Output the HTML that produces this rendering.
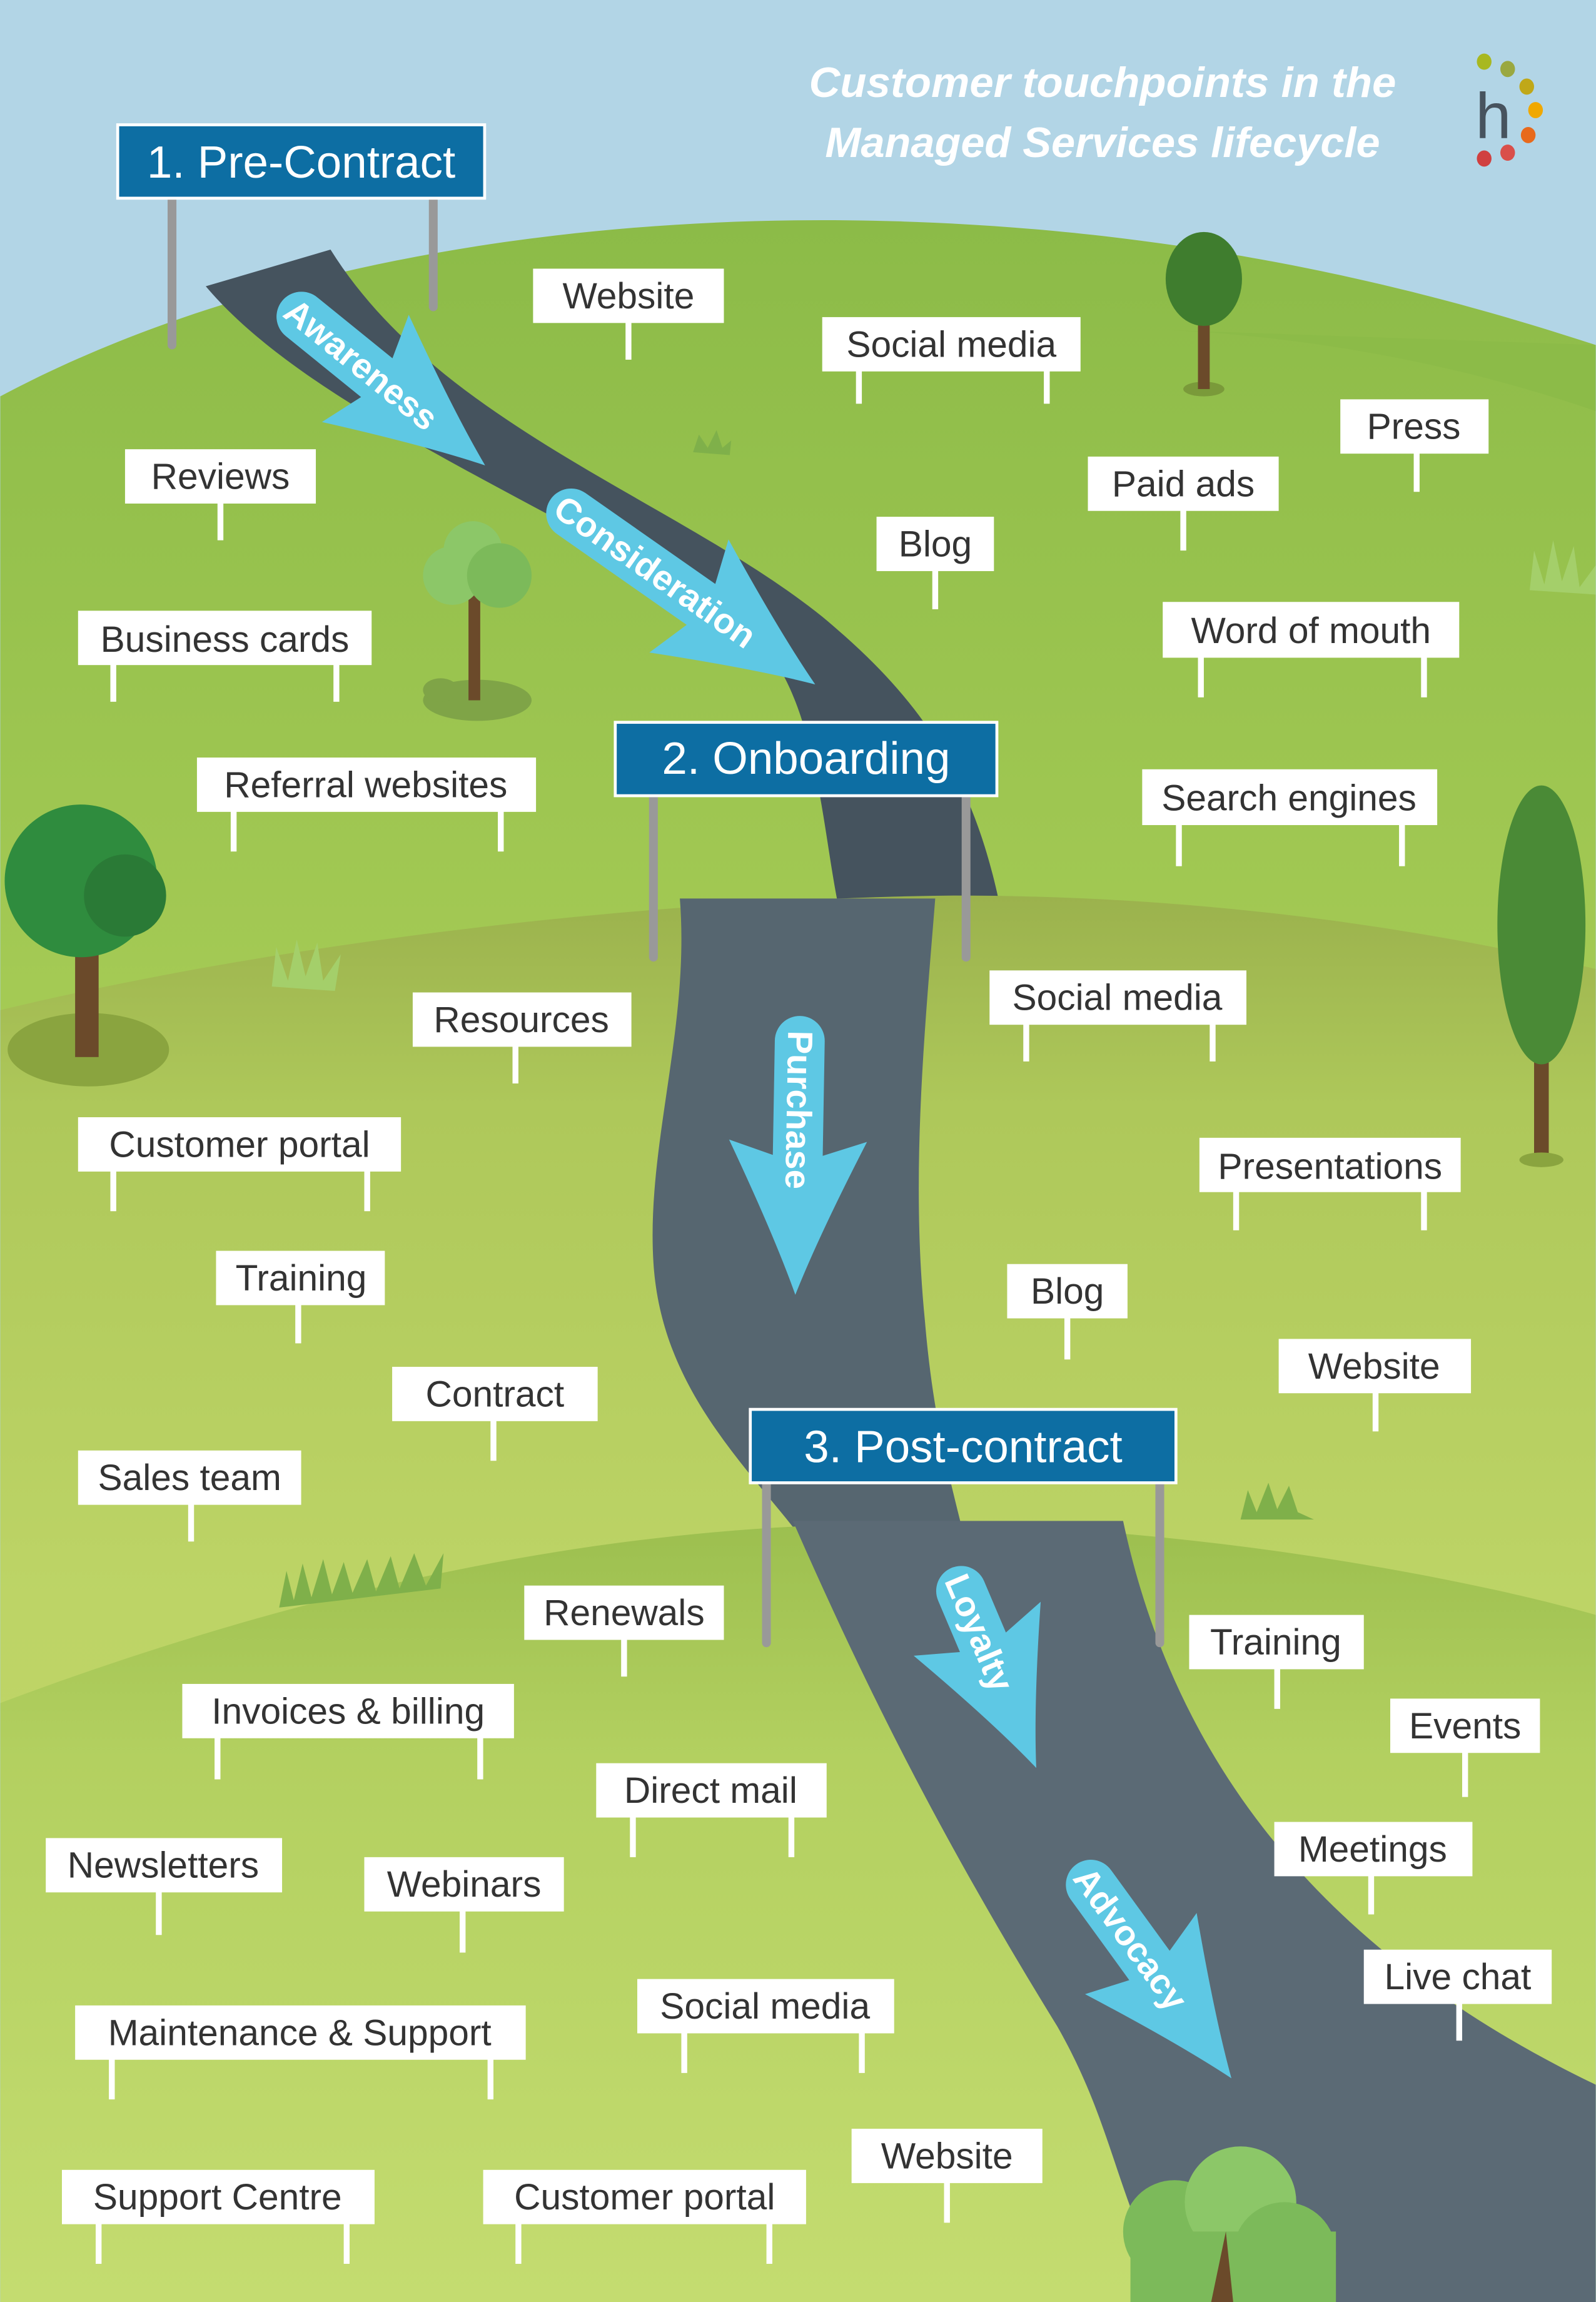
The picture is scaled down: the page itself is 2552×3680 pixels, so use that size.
<!DOCTYPE html>
<html><head><meta charset="utf-8"><style>
html,body{margin:0;padding:0;background:#b2d5e6}
svg{display:block}
.lb{font-family:"Liberation Sans",sans-serif;font-size:25px;fill:#333}
.sg{font-family:"Liberation Sans",sans-serif;font-size:31px;fill:#fff}
.ar{font-family:"Liberation Sans",sans-serif;font-size:24px;font-weight:bold;fill:#fff}
</style></head><body>
<svg width="2552" height="3680" viewBox="0 0 1087 1568" xmlns="http://www.w3.org/2000/svg">
<defs>
<linearGradient id="h1" x1="0" y1="0" x2="0" y2="1"><stop offset="0" stop-color="#8cbb48"/><stop offset="0.4" stop-color="#a6cb55"/><stop offset="1" stop-color="#b8d462"/></linearGradient>
<linearGradient id="h2" x1="0" y1="0" x2="0" y2="1"><stop offset="0" stop-color="#9bb24d"/><stop offset="0.15" stop-color="#aec85a"/><stop offset="0.5" stop-color="#bdd466"/><stop offset="1" stop-color="#c2d86a"/></linearGradient>
<linearGradient id="h3" x1="0" y1="0" x2="0" y2="1"><stop offset="0" stop-color="#9cbf4f"/><stop offset="0.3" stop-color="#b3d060"/><stop offset="1" stop-color="#c4dc70"/></linearGradient>
</defs>
<rect width="1087" height="1568" fill="#b2d5e6"/>
<path d="M0,270 C150,190 350,150 560,150 C800,150 980,200 1087,235 L1087,1568 L0,1568Z" fill="url(#h1)"/>
<path d="M1087,235 L1087,280 C1000,250 900,230 800,225Z" fill="#8cbb48"/>
<path d="M140,195 C220,290 420,360 520,440 C555,480 560,560 570,612 L680,612 C660,520 620,470 560,420 C460,340 300,290 225,170 Z" fill="#45535e"/>
<path d="M0,688 C200,640 450,612 650,610 C850,610 1000,640 1087,660 L1087,1568 L0,1568Z" fill="url(#h2)"/>
<path d="M463,612 L637,612 C630,700 620,800 630,900 C635,960 645,1000 655,1040 L540,1040 C500,990 450,940 445,860 C440,780 470,700 463,612 Z" fill="#566670"/>
<path d="M0,1160 C200,1085 400,1040 600,1038 C800,1036 1000,1075 1087,1100 L1087,1568 L0,1568Z" fill="url(#h3)"/>
<path d="M540,1036 L765,1036 C800,1200 900,1330 1087,1420 L1087,1568 L800,1568 C760,1500 760,1450 720,1380 C640,1250 590,1150 540,1036 Z" fill="#5b6a75"/>

<!-- grass patches -->
<g fill="#7fb04a">
<path d="M190,1095 L195,1070 L200,1090 L206,1065 L212,1088 L220,1062 L226,1086 L234,1064 L240,1085 L250,1062 L256,1084 L266,1060 L272,1082 L282,1058 L290,1080 L302,1058 L300,1082 Z"/>
<path d="M845,1035 L850,1015 L856,1030 L864,1010 L870,1028 L878,1012 L884,1030 L895,1035 Z"/>
<path d="M185,672 L188,645 L196,668 L202,640 L208,665 L216,642 L220,668 L232,650 L228,675 Z" fill="#a4cf6a"/>
<path d="M1042,402 L1045,375 L1052,398 L1058,368 L1064,396 L1072,372 L1076,400 L1087,385 L1087,405 Z" fill="#a4cf6a"/>
<path d="M472,308 L476,296 L482,305 L488,293 L492,305 L498,300 L497,310 Z"/>
</g>

<!-- trees -->
<g><ellipse cx="820" cy="265" rx="14" ry="5" fill="#7a9a3a"/><rect x="816" y="200" width="8" height="65" fill="#6b4a2a"/><ellipse cx="820" cy="190" rx="26" ry="32" fill="#3f7d2e"/></g>
<g><ellipse cx="325" cy="477" rx="37" ry="14" fill="#7fa447"/><ellipse cx="300" cy="470" rx="12" ry="8" fill="#7fa447"/><rect x="319" y="385" width="8" height="92" fill="#6b4a2a"/><circle cx="308" cy="392" r="20" fill="#8cc768"/><circle cx="322" cy="375" r="20" fill="#8cc768"/><circle cx="340" cy="392" r="22" fill="#7cba5a"/></g>
<g><ellipse cx="60" cy="715" rx="55" ry="25" fill="#8aa43f"/><rect x="51" y="610" width="16" height="110" fill="#6b4a2a"/><circle cx="55" cy="600" r="52" fill="#2f8c3e"/><circle cx="85" cy="610" r="28" fill="#2a7a36"/></g>
<g><rect x="1045" y="640" width="10" height="150" fill="#6b4a2a"/><ellipse cx="1050" cy="630" rx="30" ry="95" fill="#4a8a36"/><ellipse cx="1050" cy="790" rx="15" ry="5" fill="#8aa43f"/></g>
<g><circle cx="800" cy="1520" r="35" fill="#7cba5a"/><circle cx="845" cy="1500" r="38" fill="#8cc768"/><circle cx="875" cy="1535" r="35" fill="#7cba5a"/><rect x="770" y="1520" width="140" height="48" fill="#7cba5a"/><path d="M825,1568 L835,1520 L840,1568Z" fill="#6b4a2a"/></g>

<g fill="#999"><rect x="114" y="130" width="6" height="108" rx="3"/><rect x="292" y="130" width="6" height="82" rx="3"/>
<rect x="442" y="538" width="6" height="117" rx="3"/><rect x="655" y="538" width="6" height="117" rx="3"/>
<rect x="519" y="1006" width="6" height="116" rx="3"/><rect x="787" y="1006" width="6" height="116" rx="3"/></g>
<rect x="80" y="85" width="250" height="50" fill="#0d6ea3" stroke="#fff" stroke-width="2"/><text class="sg" x="205" y="121" text-anchor="middle">1. Pre-Contract</text>
<rect x="419" y="492" width="260" height="50" fill="#0d6ea3" stroke="#fff" stroke-width="2"/><text class="sg" x="549" y="527" text-anchor="middle">2. Onboarding</text>
<rect x="511" y="960" width="290" height="50" fill="#0d6ea3" stroke="#fff" stroke-width="2"/><text class="sg" x="656" y="996" text-anchor="middle">3. Post-contract</text>

<g fill="#5ec8e4">
<g transform="translate(192,205) rotate(39)"><path d="M17,-17 L83,-17 L73,-47 Q138,-15 178,0 Q138,15 73,47 L83,17 L17,17 A17,17 0 0 1 17,-17Z"/><text class="ar" x="6" y="8">Awareness</text></g>
<g transform="translate(375,340) rotate(35)"><path d="M17,-17 L125,-17 L115,-47 Q180,-15 220,0 Q180,15 115,47 L125,17 L17,17 A17,17 0 0 1 17,-17Z"/><text class="ar" x="6" y="8">Consideration</text></g>
<g transform="translate(545,692) rotate(91)"><path d="M17,-17 L95,-17 L85,-47 Q150,-15 190,0 Q150,15 85,47 L95,17 L17,17 A17,17 0 0 1 17,-17Z"/><text class="ar" x="10" y="8">Purchase</text></g>
<g transform="translate(648,1068) rotate(67)"><path d="M17,-17 L55,-17 L45,-47 Q108,-15 148,0 Q108,15 45,47 L55,17 L17,17 A17,17 0 0 1 17,-17Z"/><text class="ar" x="6" y="8">Loyalty</text></g>
<g transform="translate(733,1270) rotate(54)"><path d="M17,-17 L85,-17 L75,-47 Q140,-15 180,0 Q140,15 75,47 L85,17 L17,17 A17,17 0 0 1 17,-17Z"/><text class="ar" x="6" y="8">Advocacy</text></g>
</g>

<g fill="#fff">
<rect x="363" y="183" width="130" height="37"/><rect x="426" y="218" width="4" height="27"/>
<rect x="560" y="216" width="176" height="37"/><rect x="583" y="250" width="4" height="25"/><rect x="711" y="250" width="4" height="25"/>
<rect x="85" y="306" width="130" height="37"/><rect x="148" y="340" width="4" height="28"/>
<rect x="913" y="272" width="101" height="37"/><rect x="963" y="306" width="4" height="29"/>
<rect x="741" y="311" width="130" height="37"/><rect x="804" y="345" width="4" height="30"/>
<rect x="597" y="352" width="80" height="37"/><rect x="635" y="386" width="4" height="29"/>
<rect x="792" y="410" width="202" height="38"/><rect x="816" y="446" width="4" height="29"/><rect x="968" y="446" width="4" height="29"/>
<rect x="53" y="416" width="200" height="37"/><rect x="75" y="451" width="4" height="27"/><rect x="227" y="451" width="4" height="27"/>
<rect x="778" y="524" width="201" height="38"/><rect x="801" y="560" width="4" height="30"/><rect x="953" y="560" width="4" height="30"/>
<rect x="134" y="516" width="231" height="37"/><rect x="157" y="551" width="4" height="29"/><rect x="339" y="551" width="4" height="29"/>
<rect x="674" y="661" width="175" height="37"/><rect x="697" y="696" width="4" height="27"/><rect x="824" y="696" width="4" height="27"/>
<rect x="281" y="676" width="149" height="37"/><rect x="349" y="711" width="4" height="27"/>
<rect x="53" y="761" width="220" height="37"/><rect x="75" y="796" width="4" height="29"/><rect x="248" y="796" width="4" height="29"/>
<rect x="817" y="775" width="178" height="37"/><rect x="840" y="810" width="4" height="28"/><rect x="968" y="810" width="4" height="28"/>
<rect x="147" y="852" width="115" height="37"/><rect x="201" y="887" width="4" height="28"/>
<rect x="686" y="861" width="82" height="37"/><rect x="725" y="896" width="4" height="30"/>
<rect x="871" y="912" width="131" height="37"/><rect x="935" y="947" width="4" height="28"/>
<rect x="267" y="931" width="140" height="37"/><rect x="334" y="966" width="4" height="29"/>
<rect x="53" y="988" width="152" height="37"/><rect x="128" y="1023" width="4" height="27"/>
<rect x="357" y="1080" width="136" height="37"/><rect x="423" y="1115" width="4" height="27"/>
<rect x="810" y="1100" width="119" height="37"/><rect x="868" y="1135" width="4" height="29"/>
<rect x="124" y="1147" width="226" height="37"/><rect x="146" y="1182" width="4" height="30"/><rect x="325" y="1182" width="4" height="30"/>
<rect x="947" y="1157" width="102" height="37"/><rect x="996" y="1192" width="4" height="32"/>
<rect x="406" y="1201" width="157" height="37"/><rect x="429" y="1236" width="4" height="29"/><rect x="537" y="1236" width="4" height="29"/>
<rect x="868" y="1241" width="135" height="37"/><rect x="932" y="1276" width="4" height="28"/>
<rect x="31" y="1252" width="161" height="37"/><rect x="106" y="1287" width="4" height="31"/>
<rect x="248" y="1265" width="136" height="37"/><rect x="313" y="1300" width="4" height="30"/>
<rect x="929" y="1328" width="128" height="37"/><rect x="992" y="1363" width="4" height="27"/>
<rect x="434" y="1348" width="175" height="37"/><rect x="464" y="1383" width="4" height="29"/><rect x="585" y="1383" width="4" height="29"/>
<rect x="51" y="1366" width="307" height="37"/><rect x="74" y="1401" width="4" height="29"/><rect x="332" y="1401" width="4" height="29"/>
<rect x="580" y="1450" width="130" height="37"/><rect x="643" y="1485" width="4" height="29"/>
<rect x="42" y="1478" width="213" height="37"/><rect x="65" y="1513" width="4" height="29"/><rect x="234" y="1513" width="4" height="29"/>
<rect x="329" y="1478" width="220" height="37"/><rect x="351" y="1513" width="4" height="29"/><rect x="522" y="1513" width="4" height="29"/>
</g>
<g class="lb" text-anchor="middle">
<text x="428" y="210">Website</text>
<text x="648" y="243">Social media</text>
<text x="150" y="333">Reviews</text>
<text x="963" y="299">Press</text>
<text x="806" y="338">Paid ads</text>
<text x="637" y="379">Blog</text>
<text x="893" y="438">Word of mouth</text>
<text x="153" y="444">Business cards</text>
<text x="878" y="552">Search engines</text>
<text x="249" y="543">Referral websites</text>
<text x="761" y="688">Social media</text>
<text x="355" y="703">Resources</text>
<text x="163" y="788">Customer portal</text>
<text x="906" y="803">Presentations</text>
<text x="205" y="879">Training</text>
<text x="727" y="888">Blog</text>
<text x="936" y="939">Website</text>
<text x="337" y="958">Contract</text>
<text x="129" y="1015">Sales team</text>
<text x="425" y="1107">Renewals</text>
<text x="869" y="1127">Training</text>
<text x="237" y="1174">Invoices &amp; billing</text>
<text x="998" y="1184">Events</text>
<text x="484" y="1228">Direct mail</text>
<text x="935" y="1268">Meetings</text>
<text x="111" y="1279">Newsletters</text>
<text x="316" y="1292">Webinars</text>
<text x="993" y="1355">Live chat</text>
<text x="521" y="1375">Social media</text>
<text x="204" y="1393">Maintenance &amp; Support</text>
<text x="645" y="1477">Website</text>
<text x="148" y="1505">Support Centre</text>
<text x="439" y="1505">Customer portal</text>
</g>

<g font-family="'Liberation Sans',sans-serif" font-size="29" font-weight="bold" font-style="italic" fill="#fff" text-anchor="middle">
<text x="751" y="66" textLength="400" lengthAdjust="spacingAndGlyphs">Customer touchpoints in the</text>
<text x="751" y="107" textLength="378" lengthAdjust="spacingAndGlyphs">Managed Services lifecycle</text>
</g>
<text x="1005" y="94" font-family="'Liberation Sans',sans-serif" font-size="44" fill="#47535e">h</text>
<g><ellipse cx="1011" cy="42" rx="5" ry="5.5" fill="#a8b820"/><ellipse cx="1027" cy="47" rx="5" ry="5.5" fill="#9aa840"/><ellipse cx="1040" cy="59" rx="5" ry="5.5" fill="#c0a818"/><ellipse cx="1046" cy="75" rx="5" ry="5.5" fill="#f0a800"/><ellipse cx="1041" cy="92" rx="5" ry="5.5" fill="#e86a1c"/><ellipse cx="1027" cy="104" rx="5" ry="5.5" fill="#d94f4a"/><ellipse cx="1011" cy="108" rx="5" ry="5.5" fill="#d04040"/></g>
</svg>
</body></html>
